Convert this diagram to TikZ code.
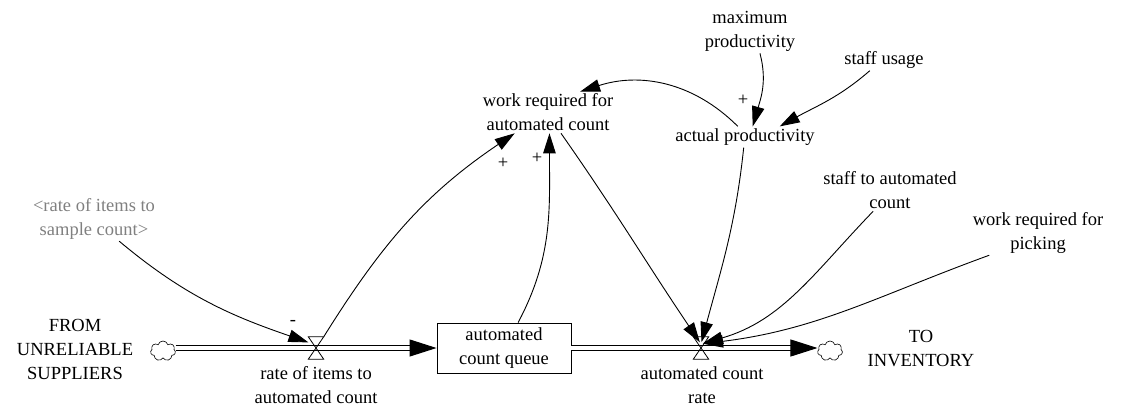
\documentclass[tikz,border=0pt]{standalone}
\usepackage{fontspec}
\setmainfont{Liberation Serif}
\newfontfamily\diagfont{Liberation Serif}
\usetikzlibrary{positioning, arrows.meta, shapes.symbols}

\begin{document}
\begin{tikzpicture}[
    x=1pt, y=1pt,
    every node/.style={font=\diagfont\fontsize{18.5}{24}\selectfont},
    txt/.style={align=center, inner sep=2pt},
    shadow/.style={txt, text=black!50},
    stock/.style={draw, line width=0.9pt, minimum width=134pt, minimum height=50pt, align=center, inner sep=0pt},
    valve/.style={minimum width=15pt, minimum height=22pt, inner sep=0pt},
    cloudy/.style={cloud, cloud puffs=7, aspect=1.3, draw, line width=0.6pt, minimum width=25pt, minimum height=20pt, inner sep=0pt},
    pipe/.style={double, double distance=4pt, line width=1pt, -{Triangle[length=27pt, width=17pt]}},
    link/.style={line width=0.9pt, -{Triangle[length=20pt, width=12.5pt]}},
    sign/.style={inner sep=0pt},
]
    \useasboundingbox (0,0) rectangle (1122,-412);

    % stock and flows
    \node[cloudy] (src) at (163,-351) {};
    \node[txt] (from) at (75,-349) {FROM\\UNRELIABLE\\SUPPLIERS};
    \node[valve] (v1) at (316,-348) {};
    \node[txt] (r1) at (316,-385) {rate of items to\\automated count};
    \node[stock] (q) at (504,-348) {automated\\count queue};
    \node[valve] (v2) at (701,-348) {};
    \node[txt] (r2) at (702,-385) {automated count\\rate};
    \node[cloudy] (snk) at (830,-351) {};
    \node[txt] (to) at (921,-349) {TO\\INVENTORY};

    % auxiliaries
    \node[txt] (wrac) at (548,-112.5) {work required for\\automated count};
    \node[txt] (ap) at (745,-137) {actual productivity};
    \node[txt] (maxp) at (750,-31) {maximum\\productivity};
    \node[txt] (su) at (884,-60) {staff usage};
    \node[txt] (sta) at (890,-190.5) {staff to automated\\count};
    \node[txt] (wrp) at (1038,-232.5) {work required for\\picking};
    \node[shadow] (ris) at (94,-218.5) {\textless rate of items to\\sample count\textgreater};

    \draw[pipe] (src.east |- q.west) -- (q.west);
    \draw[pipe] (q.east) -- (snk.west |- q.east);
    \foreach \v in {v1, v2}
        \draw[line width=0.8pt] (\v.north west) -- (\v.north east) -- (\v.south west) -- (\v.south east) -- cycle;

    % links
    \draw[link, shorten >=8pt] (ris.-42) to[out=-40, in=161] ([yshift=3pt]v1.center);
    \draw[link] (v1.north east) to[out=58, in=-146] (wrac.-148);
    \draw[link] (q.61) to[out=62, in=-90] (wrac.-86);
    \draw[link, shorten >=2pt] (wrac.-58) to[out=-55, in=124] ([yshift=4pt]v2.center);
    \draw[link, shorten >=2pt] (ap.-97) to[out=-96, in=75] ([yshift=4pt]v2.center);
    \draw[link] (ap.124) to[out=135, in=18] (wrac.33);
    \draw[link] (maxp.-66) to[out=-75, in=74] (ap.54);
    \draw[link] (su.-143) to[out=-139, in=29] (ap.17);
    \draw[link, shorten >=2pt] (sta.-129) to[out=-134, in=16] ([yshift=4pt]v2.center);
    \draw[link, shorten >=2pt] (wrp.-155) to[out=-160, in=7] ([yshift=4pt]v2.center);

    \node[sign] (s1) at (293,-323) {-};
    \node[sign] (s2) at (503,-163) {+};
    \node[sign] (s3) at (537,-158) {+};
    \node[sign] (s4) at (743,-100) {+};
\end{tikzpicture}
\end{document}
